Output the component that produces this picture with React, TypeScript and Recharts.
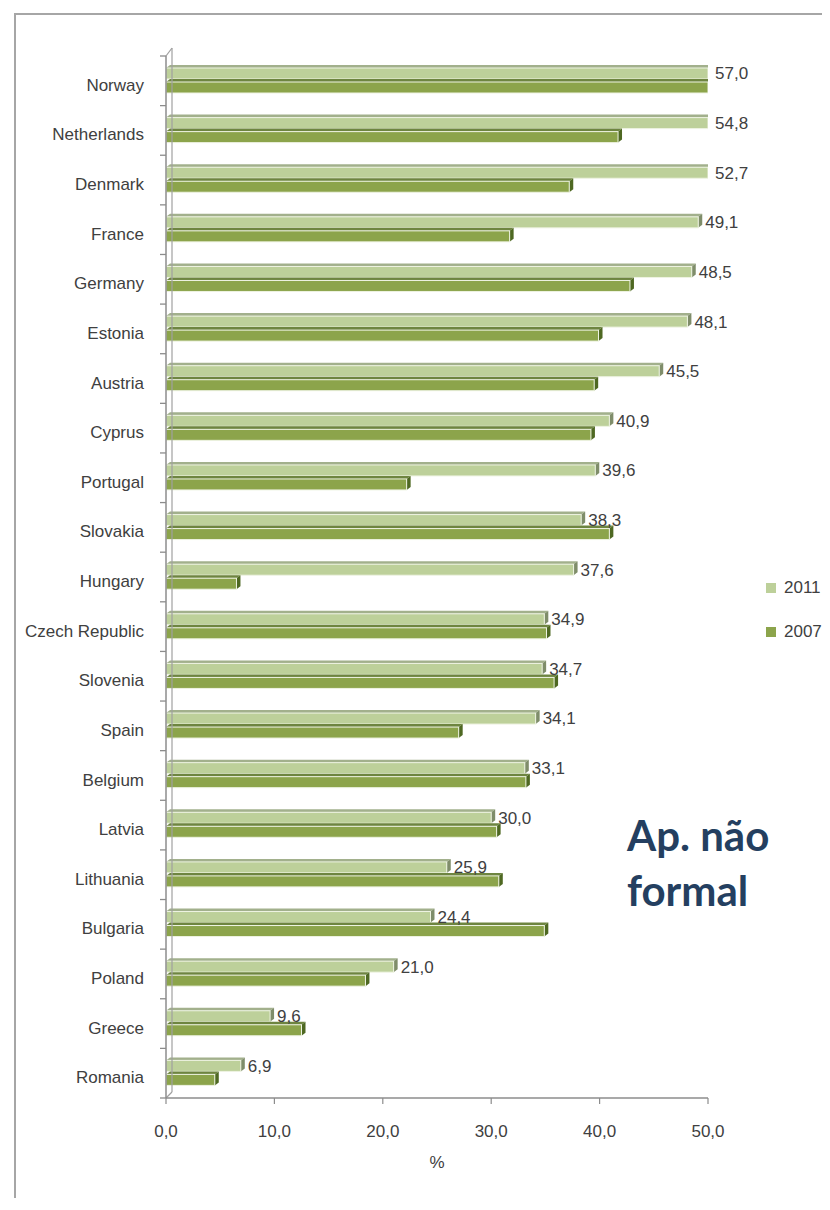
import React from 'react';
import { BarChart, Bar, XAxis, YAxis, Legend, LabelList, ReferenceLine } from 'recharts';

const countries = [
  'Norway', 'Netherlands', 'Denmark', 'France', 'Germany ', 'Estonia', 'Austria',
  'Cyprus', 'Portugal', 'Slovakia', 'Hungary', 'Czech Republic', 'Slovenia', 'Spain',
  'Belgium', 'Latvia', 'Lithuania', 'Bulgaria', 'Poland', 'Greece', 'Romania',
];
const values2011 = [
  57.0, 54.8, 52.7, 49.1, 48.5, 48.1, 45.5, 40.9, 39.6, 38.3, 37.6,
  34.9, 34.7, 34.1, 33.1, 30.0, 25.9, 24.4, 21.0, 9.6, 6.9,
];
const values2007 = [
  51.6, 41.7, 37.2, 31.7, 42.8, 39.9, 39.5, 39.2, 22.2, 40.9, 6.5,
  35.1, 35.8, 27.0, 33.2, 30.5, 30.7, 34.9, 18.4, 12.5, 4.5,
];
const xTicks = [0, 10, 20, 30, 40, 50];
const legendOrder = ['2011', '2007'];

const data = countries.map((country, i) => ({
  country,
  y2011: values2011[i],
  y2007: values2007[i],
}));

const CHART_W = 814;
const CHART_H = 1190;
const MARGIN = { top: 48, right: 114, bottom: 30, left: 18 };
const YAXIS_W = 140;
const XAXIS_H = 70;
const PLOT_RIGHT = CHART_W - MARGIN.right;

const FONT = '"Liberation Sans", Arial, sans-serif';
const TEXT = '#404040';
const AXIS = '#8c8c8c';

const fmt = (v: number) => Number(v).toFixed(1).replace('.', ',');

const make3D = (front: string, top: string, side: string) => (props: any) => {
  const { x, y, width, height, background } = props;
  if (width == null || width <= 0 || height == null) return <g />;
  const maxX = background && background.width ? background.x + background.width : PLOT_RIGHT;
  const w = Math.min(width, maxX - x);
  const d = 4;
  const e = 3;
  return (
    <g>
      <polygon
        points={`${x},${y} ${x + d},${y - e} ${x + w + d},${y - e} ${x + w},${y}`}
        fill={top}
      />
      <polygon
        points={`${x + w},${y} ${x + w + d},${y - e} ${x + w + d},${y + height - e} ${x + w},${y + height}`}
        fill={side}
      />
      <rect x={x} y={y} width={w} height={height} fill={front} stroke="#eef3e2" strokeWidth={1} />
    </g>
  );
};

const shape2011 = make3D('#bdd09a', '#a2b08c', '#7f8d6a');
const shape2007 = make3D('#8ca44b', '#6e8540', '#4e6822');

const ValueLabel = (props: any) => {
  const vb = props.viewBox || props;
  const x = vb.x ?? props.x;
  const y = vb.y ?? props.y;
  const width = vb.width ?? props.width;
  const height = vb.height ?? props.height;
  const end = Math.min(x + width, PLOT_RIGHT);
  return (
    <text x={end + 7} y={y + height / 2} dy="0.35em" fontSize={17} fill={TEXT} fontFamily={FONT}>
      {fmt(props.value)}
    </text>
  );
};

const renderLegend = (props: any) => {
  const payload = (props.payload || []).slice().sort(
    (a: any, b: any) => legendOrder.indexOf(String(a.value)) - legendOrder.indexOf(String(b.value))
  );
  return (
    <div style={{ fontFamily: FONT, fontSize: 17, color: TEXT }}>
      {payload.map((entry: any) => (
        <div key={entry.value} style={{ display: 'flex', alignItems: 'center', height: 44 }}>
          <span
            style={{ display: 'inline-block', width: 10, height: 10, background: entry.color, marginRight: 8 }}
          />
          <span>{entry.value}</span>
        </div>
      ))}
    </div>
  );
};

// Axis wall: back line, corner diagonals and category-boundary ticks, positioned
// from the reference line's own coordinates (the plot's left edge, top and bottom).
const AxisWall = (props: any) => {
  const { x1, y1, y2 } = props;
  const off = 6;
  const top = Math.min(y1, y2);
  const bot = Math.max(y1, y2);
  const n = countries.length;
  const step = (bot - top) / n;
  const stubs = [];
  for (let i = 0; i <= n; i += 1) {
    const yy = top + step * i;
    stubs.push(<line key={i} x1={x1 - 6} x2={x1} y1={yy} y2={yy} stroke={AXIS} strokeWidth={1.3} />);
  }
  return (
    <g>
      <line x1={x1 + off} y1={top - 8} x2={x1 + off} y2={bot - 6} stroke="#a0a0a0" strokeWidth={1.2} />
      <line x1={x1} y1={top} x2={x1 + off} y2={top - 8} stroke="#a0a0a0" strokeWidth={1.2} />
      <line x1={x1} y1={bot} x2={x1 + off} y2={bot - 6} stroke="#a0a0a0" strokeWidth={1.2} />
      {stubs}
    </g>
  );
};

export default function App() {
  return (
    <div
      style={{
        position: 'relative',
        width: CHART_W,
        height: CHART_H,
        overflow: 'hidden',
        fontFamily: FONT,
        background: '#ffffff',
      }}
    >
      <div
        style={{
          position: 'absolute',
          left: 6,
          top: 5,
          width: 1000,
          height: 1400,
          borderTop: '2px solid #a6a6a6',
          borderLeft: '2px solid #a6a6a6',
        }}
      />
      <div style={{ position: 'absolute', left: 0, top: 0 }}>
        <BarChart
          width={CHART_W}
          height={CHART_H}
          data={data}
          layout="vertical"
          margin={MARGIN}
          barSize={11}
          barGap={3}
        >
          <YAxis
            yAxisId="cat"
            type="category"
            dataKey="country"
            width={YAXIS_W}
            tickLine={false}
            tickSize={0}
            tickMargin={22}
            axisLine={{ stroke: AXIS, strokeWidth: 1.5 }}
            interval={0}
            tick={{ fontSize: 17, fill: TEXT, fontFamily: FONT, dy: 4 }}
          />
          <XAxis
            type="number"
            domain={[0, 50]}
            ticks={xTicks}
            allowDataOverflow
            height={XAXIS_H}
            tickFormatter={fmt}
            tickSize={6}
            tickMargin={21}
            tickLine={{ stroke: AXIS, strokeWidth: 1.2 }}
            axisLine={{ stroke: AXIS, strokeWidth: 1.5 }}
            tick={{ fontSize: 17, fill: TEXT, fontFamily: FONT }}
            label={{ value: '%', position: 'insideBottom', offset: 0, fontSize: 17, fill: TEXT, fontFamily: FONT }}
          />
          <ReferenceLine x={0} yAxisId="cat" stroke="#a0a0a0" shape={AxisWall} ifOverflow="visible" />
          <Bar dataKey="y2011" name="2011" yAxisId="cat" fill="#bdd09a" shape={shape2011} isAnimationActive={false}>
            <LabelList dataKey="y2011" content={ValueLabel} />
          </Bar>
          <Bar dataKey="y2007" name="2007" yAxisId="cat" fill="#8ca44b" shape={shape2007} isAnimationActive={false} />
          <Legend
            layout="vertical"
            align="center"
            verticalAlign="middle"
            content={renderLegend}
            wrapperStyle={{ left: 758, top: 558, width: 60 }}
          />
        </BarChart>
      </div>
      <div
        style={{
          position: 'absolute',
          left: 619,
          top: 800,
          fontFamily: 'Lato, "Open Sans", sans-serif',
          fontWeight: 700,
          fontSize: 42,
          lineHeight: '55px',
          color: '#243f60',
          whiteSpace: 'nowrap',
        }}
      >
        Ap. não
        <br />
        formal
      </div>
    </div>
  );
}
